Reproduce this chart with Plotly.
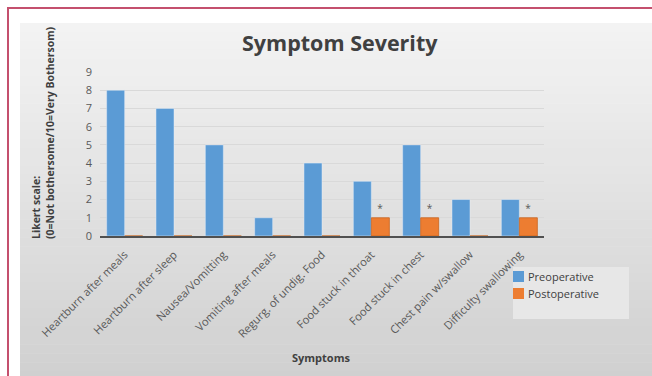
import plotly.graph_objects as go

categories = ["Heartburn after meals", "Heartburn after sleep", "Nausea/Vomitting",
              "Vomiting after meals", "Regurg. of undig. Food", "Food stuck in throat",
              "Food stuck in chest", "Chest pain w/swallow", "Difficulty swallowing"]
preoperative = [8, 7, 5, 1, 4, 3, 5, 2, 2]
postoperative = [0, 0, 0, 0, 0, 1, 1, 0, 1]
significance = ["", "", "", "", "", "*", "*", "", "*"]
series_names = ["Preoperative", "Postoperative"]
series_colors = ["#5b9bd5", "#ed7d31"]

W, H = 652, 376
L, R, T, B = 100, 108, 72, 140
x1 = W - R
ybot = H - B


def px(x):
    return (x - L) / (x1 - L)


def py(y):
    return (ybot - y) / (ybot - T)


fig = go.Figure()
fig.add_trace(go.Bar(x=categories, y=preoperative, name=series_names[0],
                     marker=dict(color=series_colors[0])))
fig.add_trace(go.Bar(x=categories, y=postoperative, name=series_names[1],
                     marker=dict(color=series_colors[1], line=dict(color="#c86420", width=0.8)),
                     text=significance, textposition="outside",
                     textfont=dict(size=10, color="#595959"), cliponaxis=False))

shapes = []
# outer border
shapes.append(dict(type="rect", xref="paper", yref="paper", x0=px(8), x1=px(700),
                   y0=py(420), y1=py(8), line=dict(color="#c4506e", width=2),
                   fillcolor="white", layer="below"))
# gradient background
n = 40
top, bottom = 23, 380
c0, c1 = 243, 208
for i in range(n):
    ya = top + (bottom - top) * i / n
    yb = top + (bottom - top) * (i + 1) / n
    c = round(c0 + (c1 - c0) * i / (n - 1))
    col = f"rgb({c},{c},{c})"
    shapes.append(dict(type="rect", xref="paper", yref="paper", x0=px(20), x1=px(700),
                       y0=py(yb + 0.5), y1=py(ya), line=dict(width=0),
                       fillcolor=col, layer="below"))
# legend box
shapes.append(dict(type="rect", xref="paper", yref="paper", x0=px(513), x1=px(629),
                   y0=py(319), y1=py(267), line=dict(width=0),
                   fillcolor="rgba(232,232,232,0.95)", layer="below"))

annotations = [
    dict(text="<b>Symptom Severity</b>", xref="paper", yref="paper", x=px(340), y=py(42),
         showarrow=False, font=dict(size=21.5, color="#404040"), xanchor="center", yanchor="middle"),
    dict(text="<b>Symptoms</b>", xref="paper", yref="paper", x=px(321), y=py(357),
         showarrow=False, font=dict(size=11, color="#404040"), xanchor="center", yanchor="middle"),
    dict(text="<b>Likert scale:<br>(0=Not bothersome/10=Very Bothersom)</b>", xref="paper",
         yref="paper", x=px(43), y=py(133), showarrow=False, textangle=-90,
         font=dict(size=10.5, color="#404040"), xanchor="center", yanchor="middle", align="left"),
]

# custom legend (squares + labels)
for i, (name, col) in enumerate(zip(series_names, series_colors)):
    yc = 276.5 + 17 * i
    shapes.append(dict(type="rect", xref="paper", yref="paper", x0=px(513), x1=px(524),
                       y0=py(yc + 5.5), y1=py(yc - 5.5), line=dict(width=0),
                       fillcolor=col, layer="above"))
    annotations.append(dict(text=name, xref="paper", yref="paper", x=px(525.5), y=py(yc),
                            showarrow=False, xanchor="left", yanchor="middle",
                            font=dict(size=11, color="#404040")))

fig.update_layout(
    width=W, height=H,
    margin=dict(l=L, r=R, t=T, b=B, pad=0),
    paper_bgcolor="white",
    plot_bgcolor="rgba(0,0,0,0)",
    font=dict(family="Open Sans", color="#595959"),
    bargap=0.27, bargroupgap=0,
    shapes=shapes,
    annotations=annotations,
    showlegend=False,
    xaxis=dict(tickangle=-45, tickfont=dict(size=11.2, color="#595959"),
               showline=True, linecolor="#505050", linewidth=1.5, ticks="",
               showgrid=False, ticklabelstandoff=6),
    yaxis=dict(range=[0, 9], dtick=1, tickfont=dict(size=11, color="#595959"),
               showgrid=True, gridcolor="#d9d9d9", gridwidth=1, zeroline=False,
               showline=False, ticks="", ticklabelstandoff=7),
)

fig.write_html("out.html")
